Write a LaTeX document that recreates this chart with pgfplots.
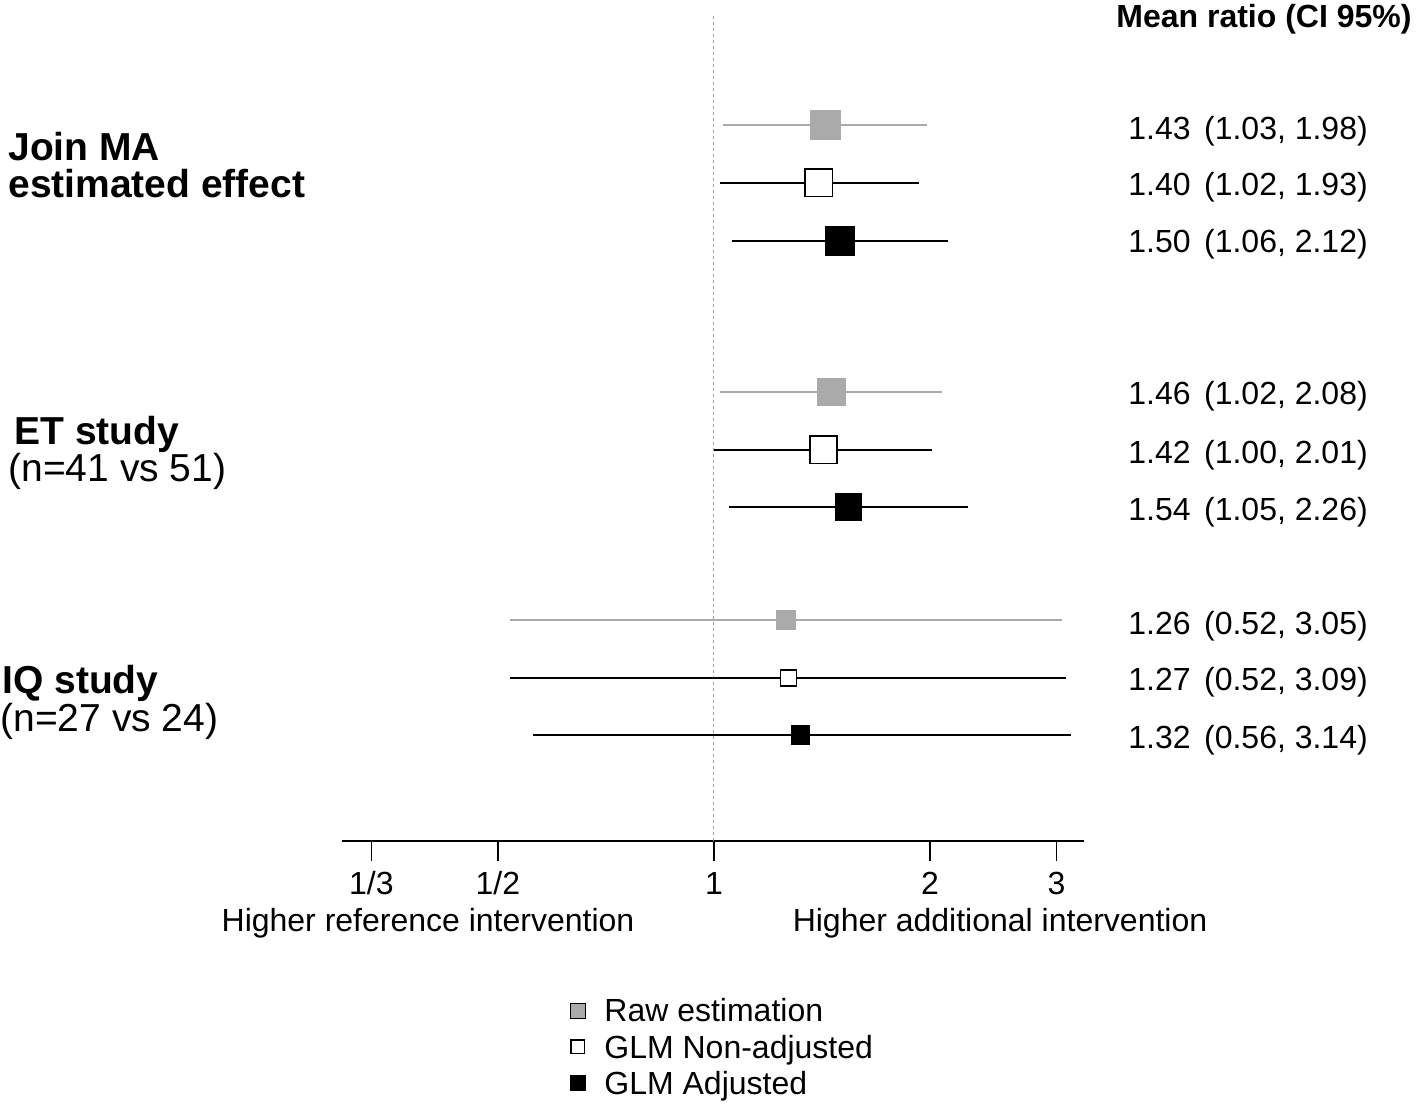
\documentclass[border=0pt]{standalone}
\usepackage{pgfplots}
\pgfplotsset{compat=1.18}
\usepackage{fontspec}
\setmainfont{Liberation Sans}
\definecolor{rawgray}{RGB}{170,170,170}
\definecolor{dotgray}{RGB}{160,160,160}
\newcommand\fs{\fontsize{16}{18.25}\selectfont}
\newcommand\fl{\fontsize{19.5}{23}\selectfont}
\pgfplotsset{
  rawline/.style={rawgray, line width=0.9pt, mark=square*, mark indices={2}, mark options={draw=none, fill=rawgray, solid}, forget plot},
  openline/.style={black, line width=0.9pt, mark=square*, mark indices={2}, mark options={fill=white, draw=black, line width=0.9pt, solid}, forget plot},
  adjline/.style={black, line width=0.9pt, mark=square*, mark indices={2}, mark options={draw=none, fill=black, solid}, forget plot},
}
\begin{document}
\begin{tikzpicture}
\useasboundingbox (-171pt,-131pt) rectangle (538pt,420.5pt);
\begin{axis}[
  scale only axis, width=371pt, height=413pt,
  xmode=log, xmin=0.3033, xmax=3.278, ymin=0, ymax=826,
  axis x line=bottom, axis y line=none,
  x axis line style={-, line width=0.75pt, black},
  xtick={0.333333,0.5,1,2,3}, xticklabels={1/3,1/2,1,2,3},
  xtick align=outside, major tick length=10pt,
  xtick style={line width=0.75pt, black},
  xticklabel style={font=\fs, anchor=base, yshift=-16.5pt},
  clip=false,
  legend style={at={(axis description cs:0.3073,-0.1877)}, anchor=north west,
    draw=none, fill=none, inner sep=0pt, row sep=3.75pt, column sep=9.5pt,
    nodes={inner sep=0pt}, font=\fs},
  legend cell align=left,
]
\addlegendimage{only marks, mark=square*, mark size=3.75pt, mark options={draw=none, fill=rawgray}}
\addlegendentry{\strut Raw estimation}
\addlegendimage{only marks, mark=square*, mark size=3.4pt, mark options={fill=white, draw=black, line width=0.75pt}}
\addlegendentry{\strut GLM Non-adjusted}
\addlegendimage{only marks, mark=square*, mark size=3.75pt, mark options={draw=none, fill=black}}
\addlegendentry{\strut GLM Adjusted}

\addplot[dotgray, line width=0.5pt, dash pattern=on 1.5pt off 1.5pt, forget plot] coordinates {(1,0) (1,826)};

% Join MA estimated effect
\addplot[rawline, mark size=7.25pt] coordinates {(1.03,716) (1.43,716) (1.98,716)};
\addplot[openline, mark size=6.8pt] coordinates {(1.02,658) (1.40,658) (1.93,658)};
\addplot[adjline, mark size=7pt] coordinates {(1.06,600) (1.50,600) (2.12,600)};
% ET study
\addplot[rawline, mark size=6.75pt] coordinates {(1.02,449) (1.46,449) (2.08,449)};
\addplot[openline, mark size=6.8pt] coordinates {(1.00,391) (1.42,391) (2.01,391)};
\addplot[adjline, mark size=6.5pt] coordinates {(1.05,334) (1.54,334) (2.26,334)};
% IQ study
\addplot[rawline, mark size=4.5pt] coordinates {(0.52,221) (1.26,221) (3.05,221)};
\addplot[openline, mark size=4pt] coordinates {(0.52,163) (1.27,163) (3.09,163)};
\addplot[adjline, mark size=4.5pt] coordinates {(0.56,106) (1.32,106) (3.14,106)};
\end{axis}

\begin{scope}[x=0.5pt, y=-0.5pt, shift={(-342,-841)}, every node/.style={inner sep=0pt}]
\node[anchor=base west, font={\fs\bfseries}] at (1116,28) {Mean ratio (CI 95\%)};

\node[anchor=base west, font=\fs] at (1128,140) {1.43\hspace{0.42em}(1.03, 1.98)};
\node[anchor=base west, font=\fs] at (1128,196) {1.40\hspace{0.42em}(1.02, 1.93)};
\node[anchor=base west, font=\fs] at (1128,253) {1.50\hspace{0.42em}(1.06, 2.12)};
\node[anchor=base west, font=\fs] at (1128,405) {1.46\hspace{0.42em}(1.02, 2.08)};
\node[anchor=base west, font=\fs] at (1128,464) {1.42\hspace{0.42em}(1.00, 2.01)};
\node[anchor=base west, font=\fs] at (1128,521) {1.54\hspace{0.42em}(1.05, 2.26)};
\node[anchor=base west, font=\fs] at (1128,635) {1.26\hspace{0.42em}(0.52, 3.05)};
\node[anchor=base west, font=\fs] at (1128,691) {1.27\hspace{0.42em}(0.52, 3.09)};
\node[anchor=base west, font=\fs] at (1128,749) {1.32\hspace{0.42em}(0.56, 3.14)};

\node[anchor=base west, font={\fl\bfseries}] at (8,161) {Join MA};
\node[anchor=base west, font={\fl\bfseries}] at (8,198) {estimated effect};
\node[anchor=base west, font={\fl\bfseries}] at (14,445) {ET study};
\node[anchor=base west, font=\fl] at (8,482) {(n=41 vs 51)};
\node[anchor=base west, font={\fl\bfseries}] at (2,694) {IQ study};
\node[anchor=base west, font=\fl] at (0,731) {(n=27 vs 24)};

\node[anchor=base, font=\fs] at (428,931) {Higher reference intervention};
\node[anchor=base, font=\fs] at (1000,931) {Higher additional intervention};
\end{scope}
\end{tikzpicture}
\end{document}
